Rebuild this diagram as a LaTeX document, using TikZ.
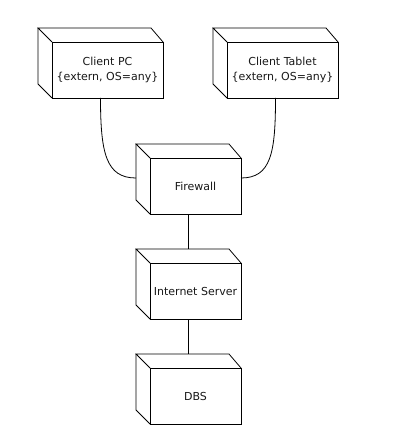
\documentclass[tikz,border=0pt]{standalone}
\usepackage{fontspec}
\setmainfont{DejaVu Sans}
\usetikzlibrary{calc}
\tikzset{
  ln/.style={draw=black, line width=0.8pt},
  face/.style={ln, rectangle, inner sep=0pt, outer sep=0pt, align=center,
    font=\fontsize{11}{15}\selectfont, text=black!90},
  wide/.style={face, minimum width=111pt, minimum height=56pt},
  narrow/.style={face, minimum width=91pt, minimum height=56pt},
}
\newcommand\cubeback[1]{%
  \draw[ln] (#1.north west) -- ($(#1.north west)+(-14,-14)$) -- ($(#1.north east)+(-12,-14)$) -- (#1.north east);
  \draw[ln] ($(#1.north west)+(-14,-14)$) -- ($(#1.south west)+(-14,-14)$) -- (#1.south west);
}
\begin{document}
\begin{tikzpicture}[x=1pt,y=-1pt]
\fill[white] (0,0) rectangle (406,446);
\useasboundingbox (0,0) rectangle (406,446);
\node[wide] (pc) at (107.5,70) {Client PC\\\{extern, OS=any\}};
\node[wide] (tab) at (282.5,70) {Client Tablet\\\{extern, OS=any\}};
\node[narrow] (fw) at (195.5,186) {Firewall};
\node[narrow] (is) at (195.5,291) {Internet Server};
\node[narrow] (dbs) at (195.5,396) {DBS};
\cubeback{pc}
\cubeback{tab}
\cubeback{fw}
\cubeback{is}
\cubeback{dbs}
\draw[ln] ($(pc.south)+(-7,0)$) .. controls +(0,55) and +(-30,0) .. ($(fw.west)+(-14,-8)$);
\draw[ln] ($(tab.south)+(-7,0)$) .. controls +(0,55) and +(30,0) .. ($(fw.east)+(0,-8)$);
\draw[ln] ($(fw.south)+(-7,0)$) -- ($(is.north)+(-7,-14)$);
\draw[ln] ($(is.south)+(-7,0)$) -- ($(dbs.north)+(-7,-14)$);
\end{tikzpicture}
\end{document}
